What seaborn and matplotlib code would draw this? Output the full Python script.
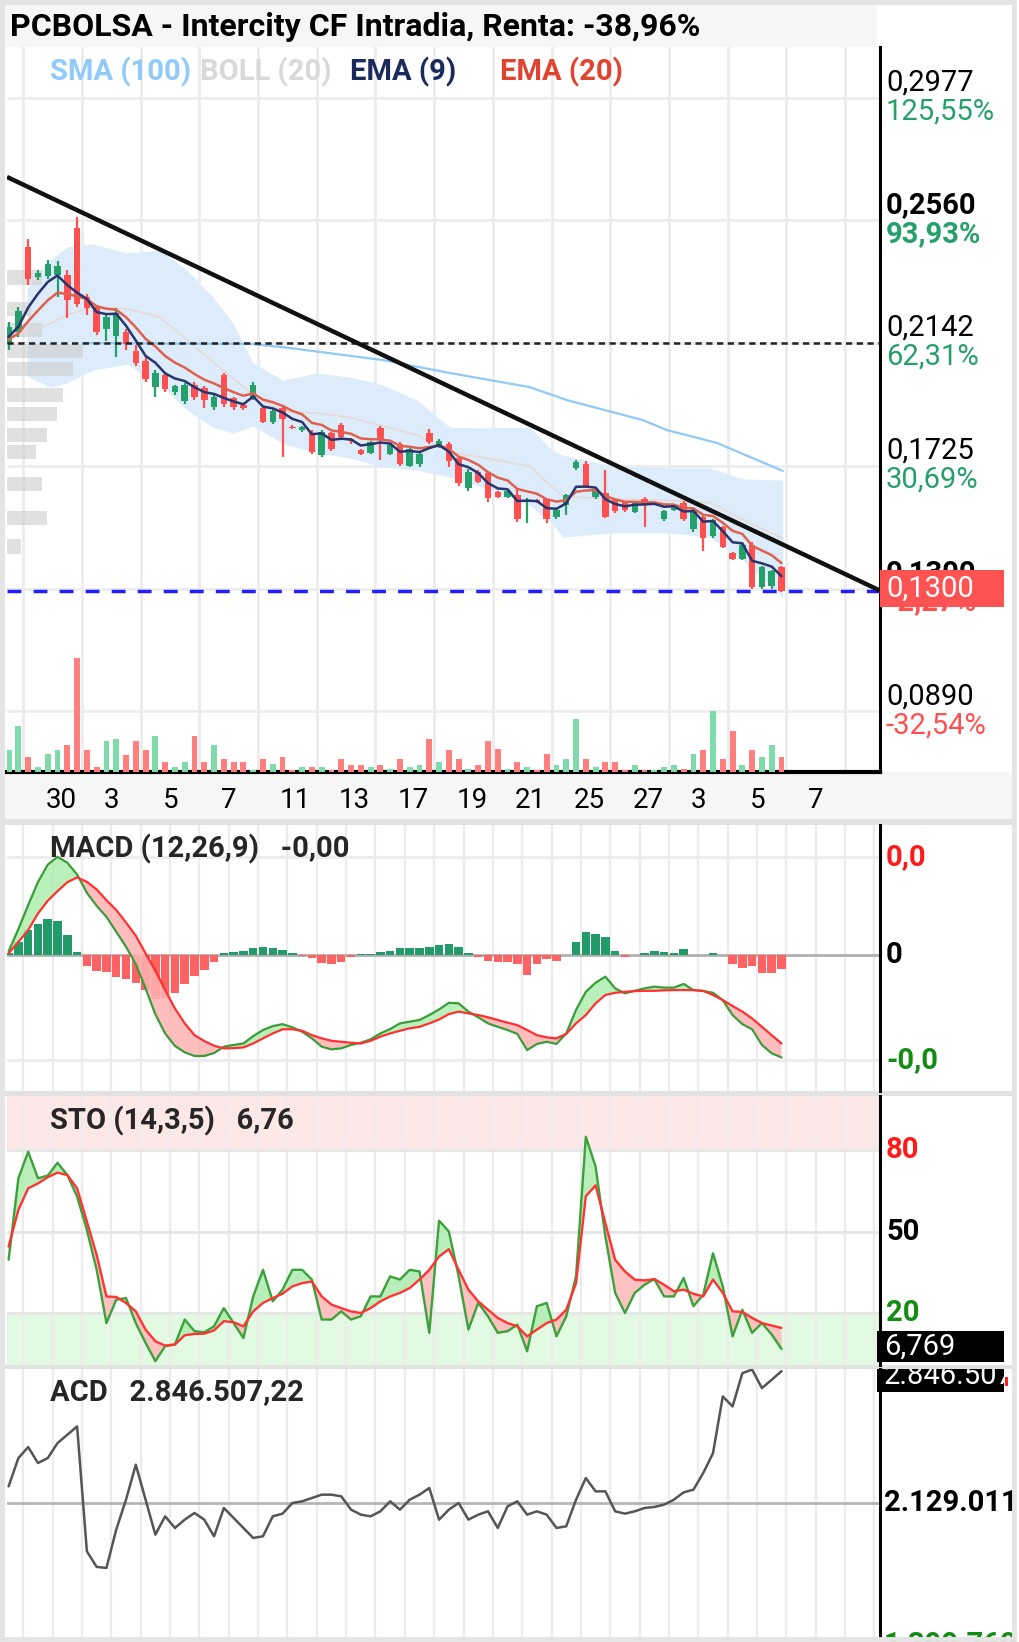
import numpy as np
import pandas as pd
import matplotlib
matplotlib.use("Agg")
import matplotlib.pyplot as plt
import matplotlib.transforms as mtransforms
from matplotlib.patches import Rectangle
import seaborn as sns

# ---------------------------------------------------------------- data
title = "PCBOLSA - Intercity CF Intradia, Renta: -38,96%"
candles_per_day = 3
first_candle_day = -2.5

open_ = [0.2140, 0.2180, 0.2470, 0.2365, 0.2370, 0.2375, 0.2373, 0.2533, 0.2300, 0.2264,
         0.2190, 0.2165, 0.2180, 0.2115, 0.2080, 0.1992, 0.2033, 0.1975, 0.1945, 0.2000,
         0.1990, 0.1925, 0.2033, 0.1955, 0.1930, 0.1955, 0.1920, 0.1875, 0.1920, 0.1855,
         0.1845, 0.1836, 0.1760, 0.1836, 0.1863, 0.1815, 0.1778, 0.1768, 0.1853, 0.1765,
         0.1800, 0.1725, 0.1730, 0.1836, 0.1790, 0.1800, 0.1750, 0.1650, 0.1705, 0.1700,
         0.1635, 0.1620, 0.1625, 0.1600, 0.1605, 0.1610, 0.1550, 0.1591, 0.1717, 0.1730,
         0.1618, 0.1632, 0.1608, 0.1600, 0.1568, 0.1610, 0.1595, 0.1545, 0.1575, 0.1598,
         0.1508, 0.1552, 0.1485, 0.1516, 0.1428, 0.1408, 0.1455, 0.1312, 0.1315, 0.1380]
high = [0.2215, 0.2264, 0.2495, 0.2390, 0.2425, 0.2420, 0.2390, 0.2571, 0.2310, 0.2270,
        0.2240, 0.2260, 0.2190, 0.2135, 0.2094, 0.2050, 0.2045, 0.2000, 0.2006, 0.2010,
        0.1995, 0.1965, 0.2040, 0.1958, 0.1935, 0.2010, 0.1925, 0.1920, 0.1930, 0.1862,
        0.1860, 0.1845, 0.1845, 0.1840, 0.1870, 0.1820, 0.1782, 0.1810, 0.1860, 0.1800,
        0.1805, 0.1785, 0.1770, 0.1850, 0.1815, 0.1805, 0.1755, 0.1715, 0.1710, 0.1705,
        0.1640, 0.1645, 0.1645, 0.1615, 0.1612, 0.1612, 0.1580, 0.1630, 0.1745, 0.1740,
        0.1650, 0.1710, 0.1612, 0.1605, 0.1605, 0.1618, 0.1600, 0.1575, 0.1595, 0.1605,
        0.1580, 0.1560, 0.1545, 0.1520, 0.1432, 0.1465, 0.1465, 0.1385, 0.1370, 0.1385]
low = [0.2118, 0.2162, 0.2340, 0.2355, 0.2360, 0.2300, 0.2227, 0.2265, 0.2237, 0.2170,
       0.2150, 0.2094, 0.2118, 0.2065, 0.2010, 0.1960, 0.1975, 0.1965, 0.1935, 0.1950,
       0.1921, 0.1914, 0.1924, 0.1915, 0.1915, 0.1950, 0.1870, 0.1865, 0.1754, 0.1848,
       0.1840, 0.1765, 0.1754, 0.1775, 0.1818, 0.1800, 0.1760, 0.1765, 0.1744, 0.1760,
       0.1725, 0.1720, 0.1720, 0.1800, 0.1785, 0.1720, 0.1655, 0.1640, 0.1665, 0.1600,
       0.1615, 0.1615, 0.1535, 0.1530, 0.1598, 0.1530, 0.1545, 0.1557, 0.1710, 0.1650,
       0.1612, 0.1548, 0.1565, 0.1568, 0.1565, 0.1516, 0.1590, 0.1538, 0.1570, 0.1538,
       0.1500, 0.1436, 0.1480, 0.1445, 0.1404, 0.1404, 0.1305, 0.1305, 0.1305, 0.1295]
close = [0.2195, 0.2250, 0.2360, 0.2380, 0.2410, 0.2405, 0.2290, 0.2275, 0.2260, 0.2180,
         0.2230, 0.2244, 0.2140, 0.2075, 0.2020, 0.2040, 0.1985, 0.1995, 0.2000, 0.1960,
         0.1950, 0.1960, 0.1935, 0.1925, 0.1920, 0.2000, 0.1875, 0.1910, 0.1885, 0.1852,
         0.1857, 0.1770, 0.1839, 0.1780, 0.1822, 0.1810, 0.1763, 0.1805, 0.1812, 0.1795,
         0.1730, 0.1780, 0.1765, 0.1805, 0.1810, 0.1740, 0.1665, 0.1705, 0.1670, 0.1615,
         0.1620, 0.1640, 0.1545, 0.1608, 0.1602, 0.1545, 0.1575, 0.1625, 0.1737, 0.1655,
         0.1645, 0.1552, 0.1570, 0.1575, 0.1600, 0.1595, 0.1598, 0.1570, 0.1590, 0.1542,
         0.1574, 0.1480, 0.1540, 0.1450, 0.1408, 0.1455, 0.1312, 0.1380, 0.1365, 0.1300]
volume = [22, 45, 15, 5, 18, 22, 27, 112, 22, 5,
          30, 32, 17, 30, 22, 35, 10, 5, 10, 35,
          10, 27, 13, 10, 10, 2, 13, 8, 15, 2,
          5, 5, 5, 2, 13, 7, 7, 5, 7, 3,
          13, 5, 7, 32, 10, 22, 13, 3, 7, 30,
          23, 3, 10, 5, 2, 18, 7, 13, 52, 13,
          5, 10, 10, 2, 7, 2, 2, 5, 7, 3,
          18, 22, 60, 13, 40, 7, 22, 15, 27, 15]
ema_seed = 0.2142

sma100_day = [0.03, 5.72, 6.85, 10.26, 12.54, 15.26, 16.52, 19.11, 19.93, 21.64, 23.88]
sma100_val = [0.2142, 0.2139, 0.2128, 0.2084, 0.2040, 0.1992, 0.1948, 0.1880, 0.1846, 0.1802, 0.1707]

boll_day = [-1.87, -1.09, -0.51, 0.37, 1.53, 2.66, 3.58, 4.46, 5.14, 5.83, 6.85, 8.0, 9.13,
            10.26, 11.41, 12.54, 13.66, 15.26, 16.0, 16.39, 17.99, 20.03, 21.40, 22.52, 23.88]
boll_upper = [0.2330, 0.2424, 0.2469, 0.2479, 0.2448, 0.2458, 0.2390, 0.2298, 0.2210, 0.2074, 0.2016,
              0.2040, 0.2026, 0.1999, 0.1948, 0.1856, 0.1853, 0.1856, 0.1778, 0.1760, 0.1727,
              0.1717, 0.1717, 0.1680, 0.1676]
boll_lower = [0.2030, 0.1992, 0.2006, 0.2050, 0.2070, 0.2000, 0.1914, 0.1856, 0.1836, 0.1860, 0.1800,
              0.1768, 0.1751, 0.1720, 0.1710, 0.1686, 0.1652, 0.1590, 0.1530, 0.1482, 0.1496,
              0.1496, 0.1482, 0.1404, 0.1278]

vp_price = [0.2365, 0.2258, 0.2186, 0.2115, 0.2055, 0.1965, 0.1901, 0.1830, 0.1771, 0.1663, 0.1547, 0.1450]
vp_width = [1.18, 0.82, 1.18, 2.6, 2.25, 1.9, 1.7, 1.36, 1.0, 1.18, 1.36, 0.47]

trend_day = [-2.555, 27.19]
trend_price = [0.2707, 0.1300]
support_level = 0.1300
dotted_level = 0.2142

price_levels = [0.2977, 0.2560, 0.2142, 0.1725, 0.1307, 0.0890]
price_labels = ["0,2977", "0,2560", "0,2142", "0,1725", "0,1300", "0,0890"]
pct_labels = ["125,55%", "93,93%", "62,31%", "30,69%", "-2,27%", "-32,54%"]
bold_levels = [False, True, False, False, True, False]

day_tick_pos = [-1, 1, 3, 5, 7, 9, 11, 13, 15, 17, 19, 21, 23, 25]
day_tick_labels = ["30", "3", "5", "7", "11", "13", "17", "19", "21", "25", "27", "3", "5", "7"]

macd = [0.15, 1.06, 2.04, 2.98, 3.69, 4.01, 3.77, 3.29, 2.54, 2.01,
        1.56, 0.95, 0.34, -0.37, -1.36, -2.42, -3.20, -3.71, -3.97, -4.12,
        -4.12, -4.00, -3.74, -3.67, -3.61, -3.31, -3.06, -2.90, -2.82, -2.95,
        -3.13, -3.40, -3.74, -3.85, -3.81, -3.67, -3.58, -3.44, -3.20, -3.02,
        -2.79, -2.72, -2.65, -2.45, -2.22, -1.95, -1.97, -2.31, -2.54, -2.79,
        -2.93, -3.06, -3.22, -3.88, -3.63, -3.54, -3.63, -3.20, -2.24, -1.50,
        -1.13, -0.88, -1.36, -1.56, -1.46, -1.36, -1.29, -1.33, -1.33, -1.18,
        -1.43, -1.47, -1.54, -1.84, -2.45, -2.82, -3.03, -3.67, -4.01, -4.18]
macd_signal = [0.07, 0.54, 1.02, 1.70, 2.22, 2.61, 2.97, 3.17, 2.99, 2.68,
               2.24, 1.84, 1.33, 0.79, 0.07, -0.64, -1.43, -2.18, -2.79, -3.27,
               -3.51, -3.70, -3.81, -3.80, -3.77, -3.61, -3.40, -3.20, -3.03, -3.03,
               -3.09, -3.27, -3.40, -3.50, -3.54, -3.58, -3.61, -3.50, -3.33, -3.20,
               -3.09, -2.99, -2.93, -2.79, -2.63, -2.41, -2.31, -2.38, -2.45, -2.54,
               -2.65, -2.76, -2.86, -3.06, -3.27, -3.36, -3.40, -3.22, -2.79, -2.45,
               -1.97, -1.63, -1.54, -1.50, -1.47, -1.46, -1.46, -1.44, -1.43, -1.43,
               -1.43, -1.46, -1.63, -1.84, -2.08, -2.31, -2.59, -2.93, -3.27, -3.61]
macd_levels = [4.0, 0.0, -4.29]
macd_labels = ["0,0", "0", "-0,0"]

sto_k = [39.6, 69.6, 79.4, 69.6, 70.6, 75.3, 70.8, 62.9, 50.6, 35.9,
         16.3, 24.9, 25.5, 16.3, 9.0, 2.3, 7.8, 8.4, 17.6, 13.3,
         12.9, 15.1, 21.8, 16.3, 10.8, 26.1, 35.9, 24.3, 28.6, 35.9,
         35.9, 32.3, 17.6, 17.6, 20.6, 17.6, 18.8, 26.1, 26.1, 33.5,
         32.3, 35.9, 35.3, 12.7, 54.0, 50.0, 33.5, 13.9, 23.7, 18.8,
         12.7, 13.3, 15.7, 5.9, 22.5, 23.7, 11.4, 18.8, 33.5, 84.9,
         73.9, 48.2, 27.4, 20.0, 27.4, 30.4, 32.5, 26.1, 26.1, 32.9,
         22.5, 26.7, 42.0, 29.8, 11.4, 21.2, 12.7, 16.3, 12.1, 6.8]
sto_d = [44.5, 58.0, 65.9, 67.7, 70.0, 71.7, 70.8, 65.9, 53.7, 41.4,
         26.1, 25.9, 23.7, 20.6, 13.9, 9.6, 8.0, 8.4, 11.8, 12.3,
         12.4, 13.6, 17.0, 16.6, 15.1, 20.6, 23.7, 25.5, 27.1, 29.8,
         31.0, 31.6, 26.1, 23.1, 21.8, 20.6, 20.0, 21.8, 24.3, 26.1,
         27.4, 29.2, 32.3, 35.9, 40.8, 43.5, 35.9, 28.6, 24.3, 21.2,
         18.2, 16.3, 15.1, 11.4, 13.9, 16.3, 17.6, 21.2, 31.0, 63.0,
         67.0, 53.1, 39.6, 35.3, 32.3, 32.0, 32.5, 30.4, 28.0, 28.6,
         27.1, 26.1, 32.3, 27.4, 20.6, 20.4, 18.2, 16.3, 15.4, 14.5]
sto_levels = [80, 50, 20]

acd = [2219600, 2373600, 2433400, 2346500, 2373600, 2455200, 2500500, 2545800, 1866300, 1781100,
       1775700, 1984100, 2147100, 2337400, 2147100, 1956900, 2056500, 1993100, 2038400, 2074700,
       2038400, 1947800, 2101800, 2047500, 1993100, 1938800, 1947800, 2056500, 2071000, 2129000,
       2138100, 2156200, 2174300, 2174300, 2165300, 2092800, 2065600, 2056500, 2083700, 2138100,
       2092800, 2147100, 2174300, 2210600, 2038400, 2092800, 2129000, 2038400, 2065600, 2083700,
       1993100, 2110900, 2138100, 2065600, 2083700, 2065600, 1993100, 2002200, 2147100, 2264900,
       2192400, 2192400, 2083700, 2071000, 2083700, 2101800, 2107300, 2120000, 2147100, 2187000,
       2201500, 2292100, 2400000, 2708900, 2654500, 2835700, 2855000, 2754200, 2799500, 2846507]
acd_mid = 2129011
acd_range = [1399760, 2858262]

# ---------------------------------------------------------------- style
sns.set_theme(style="white")
plt.rcParams["font.family"] = ["Roboto", "DejaVu Sans"]
FS = 21

W, H = 1019, 1642
fig = plt.figure(figsize=(W / 100, H / 100), dpi=100)
fig.patch.set_facecolor("white")

GREEN = "#26a06b"
RED = "#ff4f4f"
GRID = "#ececec"
X_LEFT, X_RIGHT = -2.555, 27.19


def px_axes(x0, y0, x1, y1):
    return fig.add_axes([x0 / W, 1 - y1 / H, (x1 - x0) / W, (y1 - y0) / H])


def fig_rect(x0, y0, x1, y1, **kw):
    r = Rectangle((x0 / W, 1 - y1 / H), (x1 - x0) / W, (y1 - y0) / H,
                  transform=fig.transFigure, **kw)
    fig.patches.append(r)
    return r


def fig_txt(x, y, s, **kw):
    return fig.text(x / W, 1 - y / H, s, **kw)


def style_panel(a):
    a.set_xlim(X_LEFT, X_RIGHT)
    a.set_xticks([])
    a.set_yticks([])
    for s in ["left", "top", "bottom"]:
        a.spines[s].set_visible(False)
    a.spines["right"].set_color("black")
    a.spines["right"].set_linewidth(2.2)
    a.set_facecolor("none")


o = np.array(open_)
h = np.array(high)
l = np.array(low)
c = np.array(close)
n = len(c)
xs = first_candle_day + np.arange(n) / candles_per_day
up = c >= o
cols = np.where(up, GREEN, RED)

ema9 = pd.Series([ema_seed] + close).ewm(span=4, adjust=False).mean().values[1:]
ema20 = pd.Series([ema_seed] + close).ewm(span=8, adjust=False).mean().values[1:]

# backgrounds / separators
fig_rect(5, 5, 877, 47, color="#f6f6f6", lw=0, zorder=-5)
fig_rect(5, 772, 1012, 819, color="#f6f6f6", lw=0, zorder=-5)
for y0, y1 in [(819, 825), (1091, 1096), (1365, 1369)]:
    fig_rect(5, y0, 1012, y1, color="#e2e2e2", lw=0, zorder=-4)

# ---------------------------------------------------------------- main panel
ax = px_axes(7, 47, 880, 772)
style_panel(ax)
ax.spines["bottom"].set_visible(True)
ax.spines["bottom"].set_color("black")
ax.spines["bottom"].set_linewidth(3)
ax.set_ylim(0.0683, 0.3149)

for lvl in price_levels:
    ax.axhline(lvl, color=GRID, lw=2, zorder=0)
for d in range(-2, 28, 2):
    ax.axvline(d, color=GRID, lw=2, zorder=0)

ax.fill_between(boll_day, boll_lower, boll_upper, color="#dcecfb", lw=0, zorder=1)
boll_mid = (np.array(boll_upper) + np.array(boll_lower)) / 2
ax.plot(boll_day, boll_mid, color="#e9d9d6", lw=1.2, zorder=1.5)
ax.barh(vp_price, vp_width, height=0.0048, left=X_LEFT, color="#d0d0d0",
        alpha=0.65, lw=0, zorder=1.2)
sns.lineplot(x=sma100_day, y=sma100_val, ax=ax, color="#90caf9", lw=1.6,
             errorbar=None, legend=False, zorder=2)

ax.vlines(xs, l, h, colors=cols, lw=1.6, zorder=3)
ax.bar(xs, np.maximum(np.abs(c - o), 0.0005), bottom=np.minimum(o, c), width=0.22,
       color=cols, lw=0, zorder=3)

sns.lineplot(x=xs, y=ema20, ax=ax, color="#e0604e", lw=1.8, errorbar=None,
             legend=False, zorder=4)
sns.lineplot(x=xs, y=ema9, ax=ax, color="#27346e", lw=1.8, errorbar=None,
             legend=False, zorder=4)

ax.axhline(dotted_level, color="#222222", lw=1.8, ls=(0, (2.5, 1.8)), zorder=4)
ax.axhline(support_level, color="#1f1fff", lw=2.5, ls=(0, (4, 3.5)), zorder=4)
ax.plot(trend_day, trend_price, color="#111111", lw=3.2, zorder=5, solid_capstyle="butt")
ax.set_xlabel("")
ax.set_ylabel("")

axv = ax.twinx()
axv.set_ylim(0, 712)
axv.set_xlim(X_LEFT, X_RIGHT)
axv.bar(xs, volume, width=0.2, color=np.where(up, "#7fdcaa", "#ff7f7f"), lw=0)
axv.set_axis_off()

ytr = ax.get_yaxis_transform()
for lvl, pl, pc, b in zip(price_levels, price_labels, pct_labels, bold_levels):
    w = "bold" if b else "normal"
    pcol = GREEN if not pc.startswith("-") else "#ff5050"
    ax.annotate(pl, xy=(1, lvl), xycoords=ytr, xytext=(6, 1), textcoords="offset pixels",
                ha="left", va="bottom", fontsize=FS, weight=w, color="black",
                annotation_clip=False)
    ax.annotate(pc, xy=(1, lvl), xycoords=ytr, xytext=(6, 0), textcoords="offset pixels",
                ha="left", va="top", fontsize=FS, weight=w, color=pcol,
                annotation_clip=False)

xtr = mtransforms.blended_transform_factory(ax.transData, ax.transAxes)
for pos, lab in zip(day_tick_pos, day_tick_labels):
    ax.text(pos - 0.25, -29 / 725, lab, transform=xtr, ha="left", va="center",
            fontsize=20, color="black", clip_on=False)

# legend texts
for x0, s, col in [(50, "SMA (100)", "#90caf9"), (200, "BOLL (20)", "#d9d9d9"),
                   (350, "EMA (9)", "#1b2a5c"), (500, "EMA (20)", "#e2432f")]:
    fig_txt(x0, 72, s, fontsize=FS, weight="bold", color=col, va="center", ha="left")

fig_txt(10, 27, title, fontsize=23, weight="bold", color="black", va="center", ha="left")

# ---------------------------------------------------------------- MACD
axm = px_axes(7, 825, 880, 1091)
style_panel(axm)
axm.set_ylim(-5.55, 5.31)
for d in range(-2, 28):
    axm.axvline(d, color=GRID, lw=1.6, zorder=0)
axm.axhline(macd_levels[0], color=GRID, lw=2, zorder=0)
axm.axhline(macd_levels[2], color=GRID, lw=2, zorder=0)
axm.axhline(0, color="#b0b0b0", lw=2, zorder=1)
mac = np.array(macd)
sig = np.array(macd_signal)
hist = mac - sig
axm.bar(xs, hist, width=0.29, color=np.where(hist >= 0, "#239a6a", "#ff6262"), lw=0, zorder=2)
axm.fill_between(xs, mac, sig, where=mac >= sig, interpolate=True, color="#aeeeae",
                 alpha=0.85, lw=0, zorder=3)
axm.fill_between(xs, mac, sig, where=mac < sig, interpolate=True, color="#ffb3b3",
                 alpha=0.85, lw=0, zorder=3)
sns.lineplot(x=xs, y=mac, ax=axm, color="#3a9c3a", lw=1.6, errorbar=None, legend=False, zorder=4)
sns.lineplot(x=xs, y=sig, ax=axm, color="#ff3030", lw=1.6, errorbar=None, legend=False, zorder=4)
axm.set_xlabel("")
axm.set_ylabel("")
mtr = axm.get_yaxis_transform()
for lvl, lab, col in zip(macd_levels, macd_labels, ["#ff1a1a", "black", "#148c14"]):
    axm.text(1.007, lvl, lab, transform=mtr, ha="left", va="center", fontsize=FS,
             weight="bold", color=col, clip_on=False)
fig_txt(50, 849, "MACD (12,26,9)   -0,00", fontsize=FS, weight="bold", va="center")

# ---------------------------------------------------------------- STO
axs = px_axes(7, 1096, 880, 1365)
style_panel(axs)
axs.set_ylim(0.86, 99.9)
axs.axhspan(80, 99.9, color="#fde7e7", lw=0, zorder=0)
axs.axhspan(0.86, 20, color="#e2f9e2", lw=0, zorder=0)
for d in range(-2, 28):
    axs.axvline(d, color=GRID, lw=1.6, zorder=0.5)
for lvl in sto_levels:
    axs.axhline(lvl, color="#e6e6e6", lw=2, zorder=0.6)
kk = np.array(sto_k)
dd = np.array(sto_d)
axs.fill_between(xs, kk, dd, where=kk >= dd, interpolate=True, color="#b2ecb2",
                 alpha=0.9, lw=0, zorder=2)
axs.fill_between(xs, kk, dd, where=kk < dd, interpolate=True, color="#ffbcbc",
                 alpha=0.9, lw=0, zorder=2)
sns.lineplot(x=xs, y=kk, ax=axs, color="#3aa23a", lw=1.7, errorbar=None, legend=False, zorder=3)
sns.lineplot(x=xs, y=dd, ax=axs, color="#ff3333", lw=1.7, errorbar=None, legend=False, zorder=3)
axs.set_xlabel("")
axs.set_ylabel("")
str_ = axs.get_yaxis_transform()
for lvl, col in zip(sto_levels, ["#ff1a1a", "black", "#148c14"]):
    axs.text(1.007, lvl, str(lvl), transform=str_, ha="left", va="center", fontsize=FS,
             weight="bold", color=col, clip_on=False)
fig_txt(50, 1121, "STO (14,3,5)   6,76", fontsize=FS, weight="bold", va="center")
fig_rect(877, 1331, 1004, 1362, color="black", lw=0, zorder=5)
fig_txt(884, 1347, "6,769", fontsize=FS, color="white", va="center", ha="left", zorder=6)

# ---------------------------------------------------------------- ACD
axa = px_axes(7, 1369, 880, 1637)
style_panel(axa)
axa.set_ylim(*acd_range)
for d in range(-2, 28):
    axa.axvline(d, color=GRID, lw=1.6, zorder=0)
axa.axhline(acd_mid, color="#b5b5b5", lw=2, zorder=1)
sns.lineplot(x=xs, y=np.array(acd, dtype=float), ax=axa, color="#555555", lw=1.8,
             errorbar=None, legend=False, zorder=3)
axa.set_xlabel("")
axa.set_ylabel("")
atr = axa.get_yaxis_transform()
axa.text(1.005, acd_mid, "2.129.011", transform=atr, ha="left", va="center", fontsize=FS,
         weight="bold", color="black", clip_on=False)
fig_txt(884, 1645, "1.399.760", fontsize=FS, weight="bold", color="#148c14", va="center")
fig_txt(50, 1392, "ACD   2.846.507,22", fontsize=FS, weight="bold", va="center")
box = fig_rect(877, 1369, 1004, 1392, color="black", lw=0, zorder=5)
t = fig_txt(884, 1376, "2.846.507", fontsize=FS, color="white", va="center", ha="left", zorder=6)
t.set_clip_path(box)
fig_rect(1005, 1377, 1008, 1386, color="#ff2020", lw=0, zorder=5)

# current price box
fig_rect(880, 570, 1004, 607, color="#ff5252", lw=0, zorder=5)
fig_txt(886, 589, "0,1300", fontsize=FS, color="white", va="center", ha="left", zorder=6)

# outer frame
fig_rect(2, 2, 1014, 1639, fill=False, edgecolor="#e4e4e4", lw=3.5, zorder=10)

fig.savefig("out.png", dpi=100)
